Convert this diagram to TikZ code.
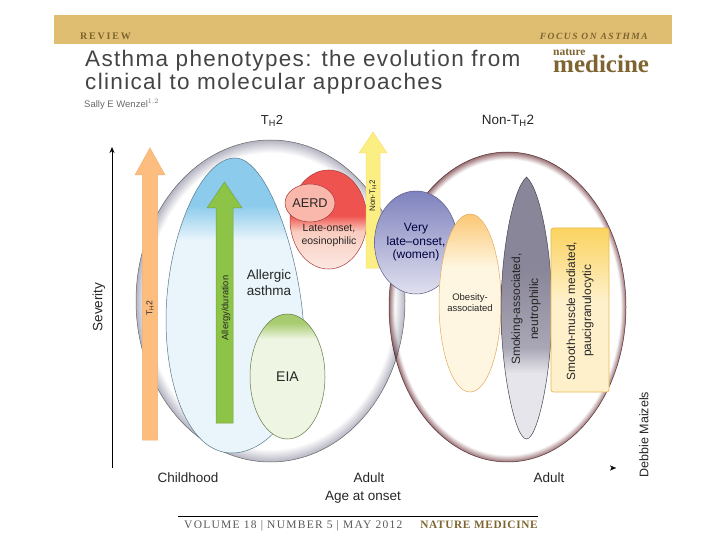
\documentclass[tikz,border=0pt]{standalone}
\usepackage{fontspec}
\setmainfont{Liberation Sans}
\newfontfamily\journalfont{Liberation Serif}
\usepackage{xcolor}
\definecolor{bandgold}{HTML}{DFBE72}
\definecolor{journalbrown}{HTML}{7D6430}
\definecolor{titlegrey}{HTML}{444444}
\definecolor{thblue}{HTML}{8CCBEC}
\definecolor{thpale}{HTML}{EAF5FB}
\definecolor{lateredtop}{HTML}{EF5350}
\definecolor{lateredmid}{HTML}{F9CDBF}
\definecolor{lateredlow}{HTML}{FCE8E2}
\definecolor{eiagreen}{HTML}{A7CC70}
\definecolor{eiapale}{HTML}{EEF5E3}
\definecolor{violettop}{HTML}{7F82BD}
\definecolor{violetlow}{HTML}{E0E0EF}
\definecolor{obeseorange}{HTML}{FBC775}
\definecolor{obesepale}{HTML}{FEF6E0}
\definecolor{smoketop}{HTML}{8A8699}
\definecolor{smokemid}{HTML}{A9A6B5}
\definecolor{smokelow}{HTML}{E6E5EB}
\definecolor{musclegold}{HTML}{FBD35F}
\definecolor{musclepale}{HTML}{FEF0CA}
\definecolor{rimgrey}{HTML}{B4B4C2}
\definecolor{rimbrown}{HTML}{9A7074}
\definecolor{arroworange}{HTML}{FDBD7E}
\definecolor{arrowgreen}{HTML}{8DC346}
\definecolor{arrowyellow}{HTML}{FBEF84}
\usepackage{tikz}
\usetikzlibrary{arrows.meta,shapes.geometric}
\pgfdeclareradialshading{greyrim}{\pgfpoint{0bp}{0bp}}{color(0bp)=(white); color(23bp)=(white); color(25bp)=(rimgrey); color(50bp)=(rimgrey)}
\pgfdeclareradialshading{brownrim}{\pgfpoint{0bp}{0bp}}{color(0bp)=(white); color(23.8bp)=(white); color(25bp)=(rimbrown); color(50bp)=(rimbrown)}
\pgfdeclareverticalshading{allergicfade}{100bp}{color(0bp)=(thpale); color(61bp)=(thpale); color(67bp)=(thblue); color(100bp)=(thblue)}
\pgfdeclareverticalshading{latefade}{100bp}{color(0bp)=(lateredlow); color(25bp)=(lateredlow); color(44bp)=(lateredmid); color(52bp)=(lateredtop); color(100bp)=(lateredtop)}
\pgfdeclareverticalshading{eiafade}{100bp}{color(0bp)=(eiapale); color(65bp)=(eiapale); color(71.5bp)=(eiagreen); color(100bp)=(eiagreen)}
\pgfdeclareverticalshading{veryfade}{100bp}{color(0bp)=(violetlow); color(25bp)=(violetlow); color(75bp)=(violettop); color(100bp)=(violettop)}
\pgfdeclareverticalshading{obesefade}{100bp}{color(0bp)=(obesepale); color(60bp)=(obesepale); color(75bp)=(obeseorange); color(100bp)=(obeseorange)}
\pgfdeclareverticalshading{smokefade}{100bp}{color(0bp)=(smokelow); color(37.5bp)=(smokelow); color(42.5bp)=(smokemid); color(57.5bp)=(smoketop); color(100bp)=(smoketop)}
\pgfdeclareverticalshading{musclefade}{100bp}{color(0bp)=(musclepale); color(53bp)=(musclepale); color(75bp)=(musclegold); color(100bp)=(musclegold)}
\newcommand{\blockarrow}[7]{% left, right, head left, head right, tip, neck, bottom
  (#1,#7) -- (#1,#6) -- (#3,#6) -- ({(#1+#2)/2},#5) -- (#4,#6) -- (#2,#6) -- (#2,#7) -- cycle}
\begin{document}
\begin{tikzpicture}[
  x=1pt, y=-1pt,
  pheno/.style={ellipse, inner sep=0pt, outer sep=0pt, line width=0.5pt, align=center, text=black!85},
  lab/.style={font=\fontsize{13.5}{16}\selectfont, text=black!85, inner sep=0pt, align=center},
  vlab/.style={lab, rotate=90},
  head/.style={inner sep=0pt, anchor=base west, text=titlegrey, font=\addfontfeatures{LetterSpace=5.9}\fontsize{22.5}{25}\selectfont},
  axis/.style={-{Stealth[length=6pt,width=5pt]}, line width=0.8pt, black},
]
\useasboundingbox (0,0) rectangle (720,540);
% ---------------- page header
\fill[bandgold] (54,15) rectangle (672,44);
\node[inner sep=0pt, anchor=west, text=journalbrown, font=\journalfont\bfseries\fontsize{10}{11}\selectfont] (review) at (80,36) {\addfontfeatures{LetterSpace=18}REVIEW};
\node[inner sep=0pt, anchor=east, text=journalbrown, font=\journalfont\itshape\bfseries\fontsize{9.5}{11}\selectfont] (focus) at (648,36) {\addfontfeatures{LetterSpace=16}FOCUS ON ASTHMA};
\node[head] (title1) at (85,67) {Asthma phenotypes: the evolution from};
\node[head] (title2) at (85,90) {clinical to molecular approaches};
\node[inner sep=0pt, anchor=west, text=titlegrey!80, font=\fontsize{9.5}{11}\selectfont] (author) at (84,104) {Sally E Wenzel$^{1,2}$};
\node[inner sep=0pt, anchor=base west, text=journalbrown, font=\journalfont\bfseries\fontsize{11.5}{12}\selectfont] (nature) at (553,56) {nature};
\node[inner sep=0pt, anchor=base west, text=journalbrown, font=\journalfont\bfseries\fontsize{25}{25}\selectfont] (medicine) at (553,72.5) {medicine};
% ---------------- the two large groups
\node[pheno, draw=black!60, shade, shading=greyrim, minimum width=269pt, minimum height=322pt] (thtwo) at (270.5,301) {};
\begin{scope}[blend mode=multiply]
  \node[pheno, draw=rimbrown!70!black, shade, shading=brownrim, minimum width=237pt, minimum height=310pt] (nonth) at (507.5,307) {};
\end{scope}
\node[lab, font=\fontsize{13}{15}\selectfont] (thlab) at (272,121) {T$_{\mathrm{H}}$2};
\node[lab] (nonlab) at (508,121) {Non-T$_{\mathrm{H}}$2};
% ---------------- TH2 side
\shade[draw=thblue!60!black, line width=0.5pt, shading=allergicfade]
  (235,158) .. controls (200,158) and (166,240) .. (166,320)
  .. controls (166,390) and (190,453) .. (232,453)
  .. controls (262,453) and (304,420) .. (304,340)
  .. controls (304,270) and (270,158) .. (235,158) -- cycle;
\node[lab, align=left] (allergic) at (269,283) {Allergic\\asthma};
\node[pheno, draw=eiagreen!60!black, shade, shading=eiafade, minimum width=75pt, minimum height=125pt, font=\fontsize{14}{16}\selectfont] (eia) at (287.5,376.5) {EIA};
\draw[draw=arroworange!80!brown, fill=arroworange, line width=0.5pt] \blockarrow{142.3}{157.7}{135}{165}{148}{175}{440};
\node[vlab, font=\fontsize{8.5}{10}\selectfont] (thtwoarrow) at (150,308) {T$_{\mathrm{H}}$2};
\draw[draw=arrowgreen!85!black, fill=arrowgreen, line width=0.5pt] \blockarrow{216}{233}{207}{242}{182}{208}{423};
\node[vlab, font=\fontsize{9.3}{11}\selectfont] (allergy) at (226,308) {Allergy/duration};
\node[pheno, draw=lateredtop!70!black, shade, shading=latefade, minimum width=77pt, minimum height=99pt] (late) at (328.5,219.5) {};
\node[pheno, draw=lateredtop!70!black, fill=lateredmid!90!red, minimum width=44pt, minimum height=38pt, font=\fontsize{12.7}{15}\selectfont] (aerd) at (310,203) {AERD};
\node[lab, font=\fontsize{10.5}{13}\selectfont] (latelab) at (329,235.5) {Late-onset,\\eosinophilic};
\draw[draw=arrowyellow!85!orange, fill=arrowyellow, line width=0.5pt] \blockarrow{366}{380}{359}{387}{132}{153}{268};
\node[vlab, font=\fontsize{8}{9}\selectfont] (nonarrow) at (373,196) {Non-T$_{\mathrm{H}}$2};
% ---------------- non-TH2 side
\node[pheno, draw=violettop!70!black, shade, shading=veryfade, minimum width=72pt, minimum height=103pt, text=black!75!blue, font=\fontsize{12}{13.4}\selectfont] (very) at (416,242.5) {Very\\late--onset,\\(women)};
\node[pheno, draw=obeseorange!60!brown, shade, shading=obesefade, minimum width=62pt, minimum height=178pt] (obese) at (470,303) {};
\node[lab, font=\fontsize{9.5}{11}\selectfont] (obeselab) at (470,302.5) {Obesity-\\associated};
\shade[draw=smoketop!50!black, line width=0.5pt, shading=smokefade]
  (526.5,177) .. controls (512,190) and (501,255) .. (501,310)
  .. controls (501,370) and (515,439) .. (526.5,439)
  .. controls (538,439) and (552,370) .. (552,310)
  .. controls (552,255) and (541,190) .. (526.5,177) -- cycle;
\node[vlab, font=\fontsize{12}{18}\selectfont] (smokelab) at (526,309) {Smoking-associated,\\neutrophilic};
\node[rectangle, rounded corners=2.5pt, draw=musclegold!70!brown, line width=0.7pt, shade, shading=musclefade, inner sep=0pt, minimum width=58pt, minimum height=164pt] (muscle) at (580,310) {};
\node[vlab, font=\fontsize{11.9}{16}\selectfont] (musclelab) at (580,311) {Smooth-muscle mediated,\\paucigranulocytic};
% ---------------- axes
\coordinate (origin) at (112,468);
\coordinate (severitytip) at (112,147);
\coordinate (agetail) at (611,468);
\coordinate (agetip) at (616,468);
\draw[axis] (origin) -- (severitytip);
\draw[axis, line width=0.1pt] (agetail) -- (agetip);
\node[vlab] (severity) at (99,307) {Severity};
\node[lab] (childhood) at (188,478) {Childhood};
\node[lab] (adult1) at (369,478) {Adult};
\node[lab] (adult2) at (549,478) {Adult};
\node[lab] (onset) at (363,497) {Age at onset};
\node[vlab, font=\fontsize{12.5}{15}\selectfont] (credit) at (644,434.5) {Debbie Maizels};
% ---------------- page footer
\coordinate (footl) at (178,516);
\coordinate (footr) at (538,516);
\draw[black, line width=0.6pt] (footl) -- (footr);
\node[inner sep=0pt, anchor=base west, text=black!65, font=\journalfont\fontsize{11.5}{13}\selectfont] (volume) at (184,528) {\addfontfeatures{LetterSpace=11}VOLUME 18 | NUMBER 5 | MAY 2012};
\node[inner sep=0pt, anchor=base east, text=journalbrown, font=\journalfont\bfseries\fontsize{11.3}{13}\selectfont] (journal) at (538,528) {\addfontfeatures{LetterSpace=6}NATURE MEDICINE};
\end{tikzpicture}
\end{document}
